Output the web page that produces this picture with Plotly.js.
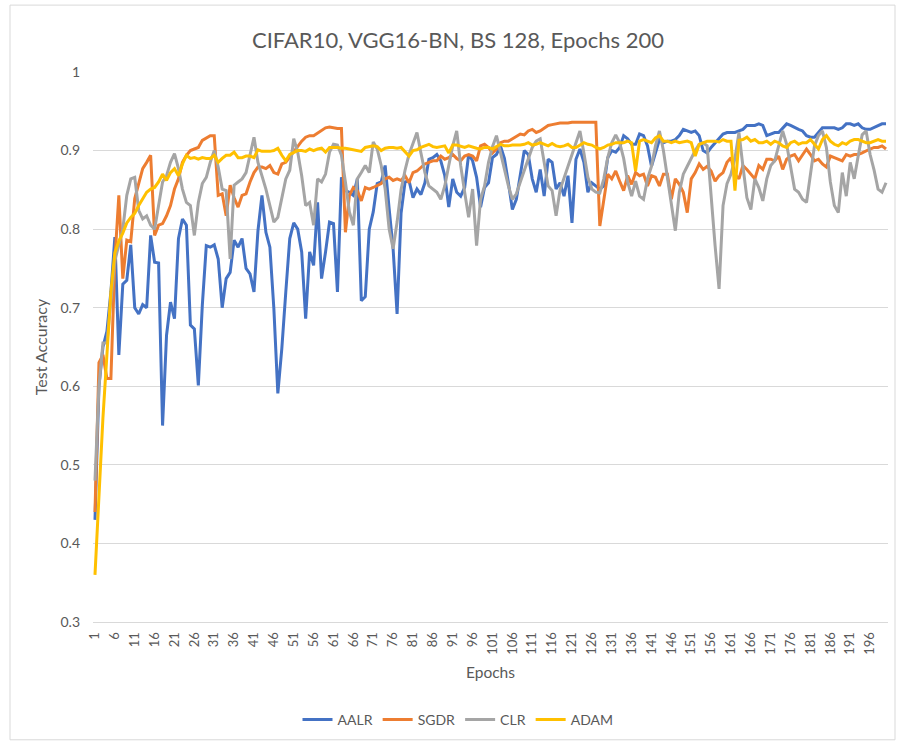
<!DOCTYPE html>
<html>
<head>
<meta charset="utf-8">
<script src="https://cdn.plot.ly/plotly-3.0.1.min.js"></script>
<style>html,body{margin:0;padding:0;background:#fff;}#chart{width:898px;height:745px;}</style>
</head>
<body>
<div id="chart"></div>
<script>
const seriesNames = ['AALR', 'SGDR', 'CLR', 'ADAM'];
const seriesColors = ['#4472C4', '#ED7D31', '#A5A5A5', '#FFC000'];

const epochs = Array.from({length: 200}, (_, i) => i + 1);

const aalr = [
0.43,0.60,0.65,0.67,0.72,0.79,0.64,0.73,0.735,0.78,
0.70,0.692,0.704,0.70,0.792,0.758,0.757,0.55,0.665,0.707,
0.686,0.788,0.813,0.805,0.678,0.673,0.601,0.703,0.779,0.777,
0.78,0.762,0.70,0.737,0.745,0.786,0.777,0.788,0.75,0.743,
0.72,0.798,0.843,0.796,0.777,0.699,0.591,0.648,0.72,0.788,
0.808,0.80,0.771,0.686,0.771,0.754,0.834,0.737,0.771,0.809,
0.807,0.72,0.866,0.849,0.847,0.843,0.864,0.709,0.714,0.80,
0.822,0.858,0.86,0.881,0.826,0.775,0.692,0.82,0.86,0.862,
0.84,0.851,0.844,0.859,0.889,0.891,0.895,0.887,0.868,0.828,
0.864,0.847,0.842,0.853,0.895,0.887,0.866,0.828,0.853,0.859,
0.891,0.895,0.906,0.89,0.859,0.825,0.838,0.868,0.90,0.895,
0.864,0.847,0.876,0.842,0.889,0.885,0.851,0.859,0.842,0.868,
0.808,0.889,0.902,0.885,0.847,0.859,0.855,0.851,0.855,0.891,
0.90,0.898,0.904,0.919,0.915,0.908,0.908,0.921,0.919,0.906,
0.88,0.897,0.914,0.91,0.912,0.912,0.914,0.919,0.927,0.925,
0.923,0.925,0.919,0.90,0.897,0.904,0.91,0.915,0.921,0.923,
0.923,0.923,0.925,0.927,0.932,0.932,0.932,0.934,0.932,0.919,
0.921,0.923,0.923,0.929,0.934,0.932,0.929,0.927,0.925,0.919,
0.917,0.917,0.923,0.929,0.929,0.929,0.929,0.927,0.929,0.934,
0.934,0.932,0.934,0.929,0.927,0.927,0.929,0.932,0.934,0.934
];

const sgdr = [
0.44,0.63,0.64,0.61,0.61,0.76,0.843,0.737,0.786,0.784,
0.839,0.858,0.877,0.885,0.894,0.792,0.805,0.807,0.817,0.83,
0.851,0.864,0.885,0.894,0.90,0.902,0.904,0.913,0.916,0.919,
0.919,0.843,0.845,0.817,0.856,0.84,0.828,0.843,0.845,0.86,
0.872,0.879,0.879,0.877,0.881,0.872,0.87,0.883,0.885,0.892,
0.898,0.905,0.912,0.917,0.919,0.919,0.922,0.926,0.929,0.93,
0.929,0.928,0.928,0.796,0.843,0.853,0.849,0.836,0.853,0.851,
0.853,0.856,0.858,0.864,0.866,0.862,0.864,0.862,0.868,0.859,
0.872,0.874,0.878,0.883,0.885,0.887,0.887,0.893,0.889,0.891,
0.895,0.89,0.887,0.893,0.895,0.893,0.887,0.906,0.908,0.904,
0.897,0.902,0.91,0.912,0.912,0.915,0.917,0.921,0.92,0.925,
0.927,0.923,0.925,0.929,0.932,0.933,0.934,0.935,0.935,0.935,
0.936,0.936,0.936,0.936,0.936,0.936,0.936,0.804,0.838,0.87,
0.864,0.874,0.861,0.849,0.868,0.857,0.872,0.868,0.87,0.855,
0.868,0.866,0.855,0.87,0.87,0.838,0.864,0.857,0.847,0.821,
0.864,0.872,0.883,0.876,0.88,0.874,0.861,0.868,0.872,0.885,
0.891,0.87,0.864,0.881,0.876,0.87,0.864,0.881,0.876,0.889,
0.889,0.887,0.893,0.876,0.889,0.893,0.895,0.887,0.895,0.902,
0.895,0.887,0.889,0.883,0.879,0.893,0.891,0.889,0.887,0.895,
0.893,0.895,0.895,0.897,0.9,0.902,0.904,0.904,0.906,0.902
];

const clr = [
0.48,0.60,0.655,0.655,0.71,0.76,0.78,0.80,0.843,0.864,
0.866,0.824,0.813,0.817,0.805,0.80,0.83,0.86,0.868,0.885,
0.896,0.877,0.851,0.834,0.83,0.792,0.834,0.858,0.866,0.885,
0.90,0.879,0.851,0.849,0.762,0.856,0.86,0.864,0.872,0.894,
0.917,0.885,0.868,0.851,0.83,0.809,0.815,0.84,0.864,0.875,
0.915,0.898,0.868,0.83,0.834,0.805,0.864,0.86,0.87,0.898,
0.908,0.907,0.894,0.86,0.822,0.805,0.864,0.872,0.881,0.872,
0.911,0.902,0.881,0.851,0.80,0.775,0.809,0.85,0.875,0.895,
0.91,0.923,0.897,0.872,0.855,0.851,0.847,0.838,0.855,0.881,
0.906,0.925,0.881,0.847,0.815,0.851,0.779,0.838,0.855,0.885,
0.905,0.919,0.897,0.876,0.855,0.838,0.845,0.86,0.875,0.89,
0.904,0.912,0.915,0.885,0.855,0.849,0.817,0.85,0.865,0.88,
0.897,0.912,0.925,0.897,0.866,0.851,0.847,0.846,0.864,0.891,
0.91,0.92,0.91,0.89,0.86,0.842,0.861,0.842,0.838,0.864,
0.88,0.906,0.925,0.90,0.868,0.83,0.798,0.847,0.87,0.88,
0.891,0.90,0.908,0.91,0.906,0.838,0.779,0.724,0.83,0.858,
0.87,0.89,0.923,0.88,0.84,0.825,0.864,0.853,0.836,0.864,
0.881,0.887,0.906,0.925,0.908,0.88,0.851,0.847,0.838,0.834,
0.87,0.906,0.919,0.925,0.904,0.86,0.83,0.821,0.872,0.842,
0.885,0.864,0.893,0.92,0.925,0.895,0.875,0.851,0.847,0.859
];

const adam = [
0.36,0.46,0.56,0.64,0.72,0.77,0.785,0.795,0.808,0.815,
0.82,0.83,0.838,0.847,0.851,0.853,0.86,0.87,0.862,0.872,
0.877,0.868,0.883,0.894,0.89,0.891,0.889,0.891,0.89,0.89,
0.894,0.885,0.89,0.894,0.894,0.898,0.891,0.891,0.893,0.893,
0.891,0.901,0.899,0.899,0.899,0.90,0.903,0.894,0.887,0.895,
0.898,0.9,0.9,0.899,0.902,0.9,0.902,0.903,0.898,0.904,
0.904,0.904,0.903,0.903,0.902,0.901,0.9,0.899,0.904,0.905,
0.906,0.905,0.9,0.903,0.904,0.904,0.903,0.904,0.898,0.893,
0.9,0.901,0.904,0.906,0.908,0.905,0.904,0.905,0.906,0.897,
0.907,0.907,0.905,0.904,0.906,0.904,0.903,0.902,0.904,0.904,
0.902,0.905,0.908,0.906,0.906,0.907,0.907,0.907,0.908,0.91,
0.907,0.908,0.91,0.908,0.906,0.909,0.906,0.905,0.906,0.908,
0.904,0.904,0.907,0.91,0.908,0.907,0.904,0.902,0.904,0.907,
0.908,0.91,0.91,0.91,0.912,0.91,0.874,0.912,0.914,0.912,
0.91,0.916,0.919,0.912,0.912,0.91,0.912,0.91,0.911,0.912,
0.91,0.893,0.908,0.91,0.912,0.912,0.912,0.911,0.914,0.912,
0.912,0.849,0.913,0.914,0.917,0.912,0.914,0.91,0.91,0.912,
0.908,0.912,0.91,0.906,0.904,0.91,0.912,0.908,0.91,0.91,
0.914,0.908,0.902,0.914,0.919,0.912,0.908,0.906,0.91,0.908,
0.912,0.914,0.914,0.912,0.91,0.91,0.912,0.914,0.912,0.912
];

const xTickVals = [1,6,11,16,21,26,31,36,41,46,51,56,61,66,71,76,81,86,91,96,101,106,111,116,121,126,131,136,141,146,151,156,161,166,171,176,181,186,191,196];
const xTickText = ['1','6','11','16','21','26','31','36','41','46','51','56','61','66','71','76','81','86','91','96','101','106','111','116','121','126','131','136','141','146','151','156','161','166','171','176','181','186','191','196'];
const yTickVals = [0.3,0.4,0.5,0.6,0.7,0.8,0.9,1];
const yTickText = ['0.3','0.4','0.5','0.6','0.7','0.8','0.9','1'];

const allSeries = [aalr, sgdr, clr, adam];
const traces = allSeries.map((ys, i) => ({
  type: 'scatter', mode: 'lines', name: seriesNames[i],
  x: epochs, y: ys,
  line: {color: seriesColors[i], width: 3}
}));

const W = 898, H = 745, L = 93, R = 10, T = 72, B = 122;
const pw = W - L - R, ph = H - T - B;
const px = v => (v - L) / pw;
const py = v => (H - B - v) / ph;

const layout = {
  width: W, height: H,
  margin: {l: L, r: R, t: T, b: B, pad: 0},
  paper_bgcolor: '#ffffff', plot_bgcolor: '#ffffff',
  font: {family: 'Lato, "Open Sans", sans-serif', color: '#595959', size: 14},
  title: {text: 'CIFAR10, VGG16-BN, BS 128, Epochs 200', font: {size: 22, color: '#595959'},
          x: 458 / W, xref: 'container', xanchor: 'center', y: 1 - 40 / H, yref: 'container', yanchor: 'middle'},
  showlegend: true,
  legend: {orientation: 'h', x: px(458), xanchor: 'center', y: py(720), yanchor: 'middle',
           font: {size: 14, color: '#595959'}, traceorder: 'normal', itemwidth: 30},
  xaxis: {range: [0.5, 200.5], tickmode: 'array', tickvals: xTickVals, ticktext: xTickText,
          tickangle: -90, showgrid: false, zeroline: false, showline: true, linecolor: '#d9d9d9', linewidth: 1,
          ticks: '', tickfont: {size: 13, color: '#595959'}, ticklabelstandoff: 4,
          title: {text: 'Epochs', font: {size: 15.5, color: '#595959'}, standoff: 13}},
  yaxis: {range: [0.3, 1], tickmode: 'array', tickvals: yTickVals, ticktext: yTickText,
          showgrid: true, gridcolor: '#d9d9d9', gridwidth: 1, zeroline: false, showline: false,
          ticks: '', tickfont: {size: 14, color: '#595959'}, ticklabelstandoff: 12,
          title: {text: 'Test Accuracy', font: {size: 16, color: '#595959'}, standoff: 8}},
  shapes: [{type: 'rect', xref: 'paper', yref: 'paper', x0: px(10), x1: px(895), y0: py(741), y1: py(5),
            line: {color: '#d9d9d9', width: 1}, fillcolor: 'rgba(0,0,0,0)', layer: 'below'}]
};

Plotly.newPlot('chart', traces, layout, {displayModeBar: false, staticPlot: true});
</script>
</body>
</html>
